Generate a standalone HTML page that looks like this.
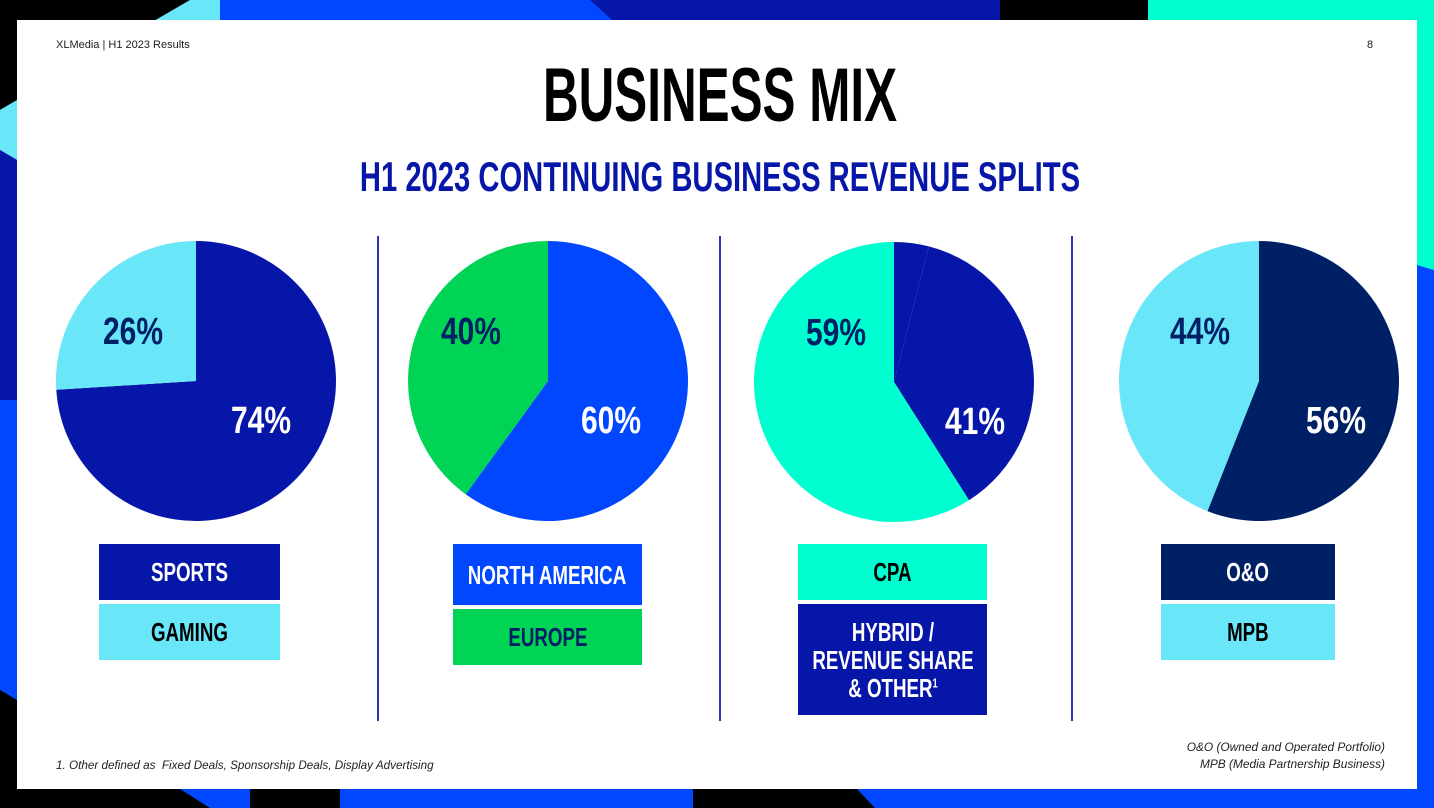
<!DOCTYPE html>
<html><head><meta charset="utf-8"><style>
body{margin:0;width:1434px;height:808px;overflow:hidden;position:relative;background:#0047ff;font-family:"Liberation Sans",sans-serif}
.card{position:absolute;left:17px;top:20px;width:1400px;height:769px;background:#fff}
.t{position:absolute;white-space:nowrap}
.cond{font-family:"Liberation Sans Narrow","Liberation Sans",sans-serif;font-weight:bold}
.box{position:absolute;display:flex;align-items:center;justify-content:center;text-align:center;font-family:"Liberation Sans Narrow","Liberation Sans",sans-serif;font-weight:bold;font-size:26px;line-height:28px}
.box span{display:inline-block;transform:scaleX(0.72);white-space:nowrap}
.div{position:absolute;width:2px;top:236px;height:485px;background:#2a35b8}
</style></head><body>
<svg width="1434" height="808" style="position:absolute;left:0;top:0">
<rect x="0" y="0" width="1434" height="808" fill="#0047ff"/>
<polygon points="0,0 220,0 220,20 0,110" fill="#69e6f7"/>
<polygon points="0,0 190,0 0,110" fill="#000"/>
<polygon points="0,110 17,100 17,160 0,150" fill="#69e6f7"/>
<polygon points="0,150 17,160 17,400 0,400" fill="#0616a8"/>
<polygon points="590,0 1000,0 1000,20 612,20" fill="#0616a8"/>
<polygon points="1000,0 1148,0 1148,20 975,20" fill="#000"/>
<polygon points="980,0 1000,0 1000,20 960,20" fill="#0616a8"/>
<rect x="1148" y="0" width="286" height="20" fill="#00ffd0"/>
<polygon points="1417,0 1434,0 1434,270 1417,265" fill="#00ffd0"/>
<polygon points="0,690 17,700 17,789 0,789" fill="#000"/>
<polygon points="0,789 180,789 210,808 0,808" fill="#000"/>
<polygon points="250,789 340,789 340,808 250,808" fill="#000"/>
<polygon points="693,789 857,789 875,808 693,808" fill="#000"/>
</svg>
<div class="card"></div>
<div class="t" style="left:56px;top:39px;font-size:11px;color:#222">XLMedia | H1 2023 Results</div>
<div class="t" style="left:1367px;top:39px;font-size:11px;color:#222">8</div>
<div class="t cond" style="left:0;width:1440px;text-align:center;top:54px;font-size:76px;line-height:84px;color:#000;transform:scaleX(0.65);transform-origin:720px 0">BUSINESS MIX</div>
<div class="t cond" style="left:0;width:1440px;text-align:center;top:153px;font-size:42px;line-height:48px;color:#0616a8;transform:scaleX(0.695);transform-origin:720px 0">H1 2023 CONTINUING BUSINESS REVENUE SPLITS</div>
<div class="div" style="left:377px"></div>
<div class="div" style="left:719px"></div>
<div class="div" style="left:1071px"></div>
<svg id="pies" width="1434" height="808" style="position:absolute;left:0;top:0"></svg>
<div class="box" style="left:99px;top:544px;width:181px;height:56px;background:#0616a8;color:#fff"><span>SPORTS</span></div>
<div class="box" style="left:99px;top:604px;width:181px;height:56px;background:#69e6f7;color:#000"><span>GAMING</span></div>
<div class="box" style="left:453px;top:544px;width:189px;height:61px;background:#0047ff;color:#fff"><span>NORTH AMERICA</span></div>
<div class="box" style="left:453px;top:609px;width:189px;height:56px;background:#00d455;color:#002066"><span>EUROPE</span></div>
<div class="box" style="left:798px;top:544px;width:189px;height:56px;background:#00ffd0;color:#000"><span>CPA</span></div>
<div class="box" style="left:798px;top:604px;width:189px;height:111px;background:#0616a8;color:#fff"><span>HYBRID /<br>REVENUE SHARE<br>&amp; OTHER<sup style="font-size:13px;line-height:0">1</sup></span></div>
<div class="box" style="left:1161px;top:544px;width:174px;height:56px;background:#002066;color:#fff"><span>O&amp;O</span></div>
<div class="box" style="left:1161px;top:604px;width:174px;height:56px;background:#69e6f7;color:#000"><span>MPB</span></div>
<div class="t" style="left:56px;top:759px;font-size:11.7px;font-style:italic;color:#222">1. Other defined as &nbsp;Fixed Deals, Sponsorship Deals, Display Advertising</div>
<div class="t" style="right:49px;top:739px;font-size:11.9px;font-style:italic;color:#222;text-align:right;line-height:17px">O&amp;O (Owned and Operated Portfolio)<br>MPB (Media Partnership Business)</div>
<script>
const pieCenters=[[196,381],[548,381],[894,382],[1259,381]];
const pie1Values=[74,26];
const pie2Values=[60,40];
const pie3Values=[4,37,59];
const pie4Values=[56,44];
const pie1Colors=["#0616a8","#69e6f7"];
const pie2Colors=["#0047ff","#00d455"];
const pie3Colors=["#0616a8","#0616a8","#00ffd0"];
const pie4Colors=["#002066","#69e6f7"];
const pie1Labels=["74%","26%"];
const pie2Labels=["60%","40%"];
const pie3Labels=["41%","59%"];
const pie4Labels=["56%","44%"];
const R=140,NS="http://www.w3.org/2000/svg",svg=document.getElementById('pies');
const rightDx=[65,63,81,77], leftDx=[-63,-77,-58,-59];
function pt(c,f,r){const a=f*2*Math.PI;return [c[0]+r*Math.sin(a),c[1]-r*Math.cos(a)];}
function label(x,y,txt,col){
  const t=document.createElementNS(NS,'text');
  t.setAttribute('x',x);t.setAttribute('y',y);
  t.setAttribute('text-anchor','middle');
  t.setAttribute('font-family','"Liberation Sans",sans-serif');
  t.setAttribute('font-weight','bold');t.setAttribute('font-size','38');
  t.setAttribute('textLength','60');t.setAttribute('lengthAdjust','spacingAndGlyphs');
  t.setAttribute('fill',col);
  t.textContent=txt;
  
  
  svg.appendChild(t);
}
function drawPie(i,vals,cols,labels){
 const c=pieCenters[i],tot=vals.reduce((a,b)=>a+b,0);let acc=0;
 vals.forEach((v,j)=>{const s=acc/tot,e=(acc+v)/tot;acc+=v;
  const p0=pt(c,s,R),p1=pt(c,e,R);
  const path=document.createElementNS(NS,'path');
  path.setAttribute('d',`M${c[0]},${c[1]} L${p0[0]},${p0[1]} A${R},${R} 0 ${e-s>0.5?1:0} 1 ${p1[0]},${p1[1]} Z`);
  path.setAttribute('fill',cols[j]);
  
  
  svg.appendChild(path);});
 label(c[0]+rightDx[i],c[1]+52,labels[0],"#fff");
 label(c[0]+leftDx[i],c[1]-37,labels[1],"#002066");
}
drawPie(0,pie1Values,pie1Colors,pie1Labels);
drawPie(1,pie2Values,pie2Colors,pie2Labels);
drawPie(2,pie3Values,pie3Colors,pie3Labels);
drawPie(3,pie4Values,pie4Colors,pie4Labels);
</script>
</body></html>
